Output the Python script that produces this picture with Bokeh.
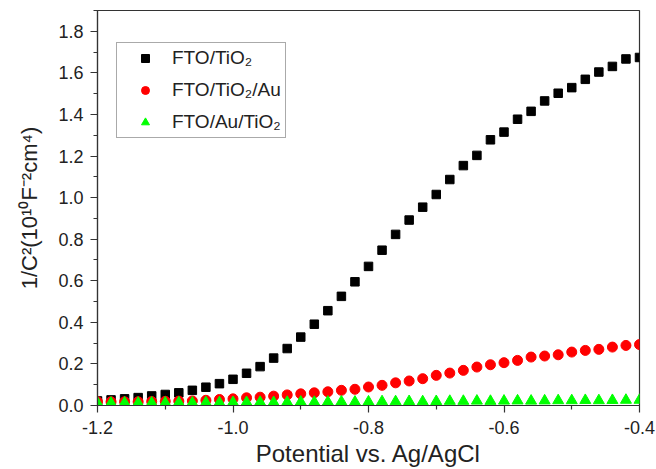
from bokeh.plotting import figure
from bokeh.models import FixedTicker, Range1d, Legend, LegendItem, NumeralTickFormatter
from bokeh.embed import file_html
from bokeh.resources import INLINE

# ---- data ----
potential = [-1.20, -1.18, -1.16, -1.14, -1.12, -1.10, -1.08, -1.06, -1.04, -1.02,
             -1.00, -0.98, -0.96, -0.94, -0.92, -0.90, -0.88, -0.86, -0.84, -0.82,
             -0.80, -0.78, -0.76, -0.74, -0.72, -0.70, -0.68, -0.66, -0.64, -0.62,
             -0.60, -0.58, -0.56, -0.54, -0.52, -0.50, -0.48, -0.46, -0.44, -0.42,
             -0.40]
fto_tio2 = [0.022, 0.027, 0.032, 0.038, 0.046, 0.053, 0.061, 0.073, 0.088, 0.105,
            0.126, 0.155, 0.187, 0.228, 0.274, 0.329, 0.391, 0.456, 0.525, 0.595,
            0.669, 0.747, 0.823, 0.892, 0.954, 1.015, 1.087, 1.154, 1.203, 1.278,
            1.315, 1.377, 1.415, 1.465, 1.502, 1.529, 1.569, 1.604, 1.631, 1.667,
            1.674]
fto_tio2_au = [0.018, 0.018, 0.018, 0.018, 0.019, 0.020, 0.021, 0.022, 0.025, 0.029,
               0.032, 0.037, 0.040, 0.045, 0.051, 0.056, 0.061, 0.066, 0.073, 0.078,
               0.089, 0.097, 0.109, 0.118, 0.129, 0.145, 0.156, 0.169, 0.185, 0.196,
               0.206, 0.217, 0.233, 0.238, 0.244, 0.257, 0.265, 0.270, 0.281, 0.289,
               0.293]
fto_au_tio2 = [0.012, 0.012, 0.013, 0.012, 0.013, 0.013, 0.014, 0.013, 0.014, 0.014,
               0.015, 0.015, 0.016, 0.015, 0.016, 0.017, 0.016, 0.017, 0.018, 0.017,
               0.018, 0.019, 0.019, 0.020, 0.019, 0.020, 0.021, 0.021, 0.022, 0.021,
               0.022, 0.023, 0.022, 0.023, 0.024, 0.024, 0.025, 0.024, 0.025, 0.026,
               0.026]
series_labels = ["FTO/TiO\u2082", "FTO/TiO\u2082/Au", "FTO/Au/TiO\u2082"]
x_major = [-1.2, -1.0, -0.8, -0.6, -0.4]
x_minor = [-1.1, -0.9, -0.7, -0.5]
y_major = [0.0, 0.2, 0.4, 0.6, 0.8, 1.0, 1.2, 1.4, 1.6, 1.8]
y_minor = [0.1, 0.3, 0.5, 0.7, 0.9, 1.1, 1.3, 1.5, 1.7, 1.9]
x_label = "Potential vs. Ag/AgCl"
y_label = "1/C\u00b2(10\u00b9\u2070F\u207b\u00b2cm\u2074)"

FONT = "Liberation Sans"
TXT = "#222222"

p = figure(width=656, height=469, output_backend="svg", toolbar_location=None,
           x_range=Range1d(-1.2, -0.4), y_range=Range1d(0, 1.9),
           min_border_left=97, min_border_right=17, min_border_top=10, min_border_bottom=62,
           background_fill_color="white", border_fill_color="white")

p.xgrid.visible = False
p.ygrid.visible = False
p.outline_line_color = "#333333"
p.outline_line_width = 1.2
p.outline_line_alpha = 1.0

p.xaxis.ticker = FixedTicker(ticks=x_major, minor_ticks=x_minor)
p.yaxis.ticker = FixedTicker(ticks=y_major, minor_ticks=y_minor)
p.xaxis.formatter = NumeralTickFormatter(format="0.0")
p.yaxis.formatter = NumeralTickFormatter(format="0.0")

for ax in (p.xaxis[0], p.yaxis[0]):
    ax.axis_line_color = "#333333"
    ax.axis_line_width = 1.2
    ax.major_tick_line_color = "#333333"
    ax.minor_tick_line_color = "#333333"
    ax.major_tick_line_width = 1.2
    ax.minor_tick_line_width = 1.2
    ax.major_tick_out = 7
    ax.major_tick_in = 0
    ax.minor_tick_out = 4
    ax.minor_tick_in = 0
    ax.major_label_text_font = FONT
    ax.major_label_text_font_size = "18px"
    ax.major_label_text_color = TXT
    ax.axis_label_text_font = FONT
    ax.axis_label_text_font_style = "normal"
    ax.axis_label_text_color = TXT

p.xaxis.major_label_standoff = 8
p.yaxis.major_label_standoff = 7
p.xaxis.axis_label = x_label
p.xaxis.axis_label_text_font_size = "24px"
p.xaxis.axis_label_standoff = 3
p.yaxis.axis_label = y_label
p.yaxis.axis_label_text_font_size = "22px"
p.yaxis.axis_label_standoff = 13

r1 = p.scatter(potential, fto_tio2, marker="square", size=8.5,
               fill_color="black", line_color="black")
r2 = p.scatter(potential, fto_tio2_au, marker="circle", size=10,
               fill_color="#ff0000", line_color="#ff0000")
r3 = p.scatter(potential, fto_au_tio2, marker="triangle", size=11,
               fill_color="#00ff00", line_color="#00ff00")

legend = Legend(items=[LegendItem(label=series_labels[0], renderers=[r1]),
                       LegendItem(label=series_labels[1], renderers=[r2]),
                       LegendItem(label=series_labels[2], renderers=[r3])],
                location=(19, 267))
legend.padding = 4
legend.spacing = 10
legend.glyph_width = 48
legend.glyph_height = 20
legend.label_height = 20
legend.label_standoff = 3
legend.label_text_font = FONT
legend.label_text_font_size = "19px"
legend.label_text_color = TXT
legend.border_line_color = "#555555"
legend.border_line_width = 1
legend.background_fill_color = "white"
legend.background_fill_alpha = 1.0
legend.margin = 0
p.add_layout(legend)

open("out.html", "w").write(file_html(p, INLINE))
